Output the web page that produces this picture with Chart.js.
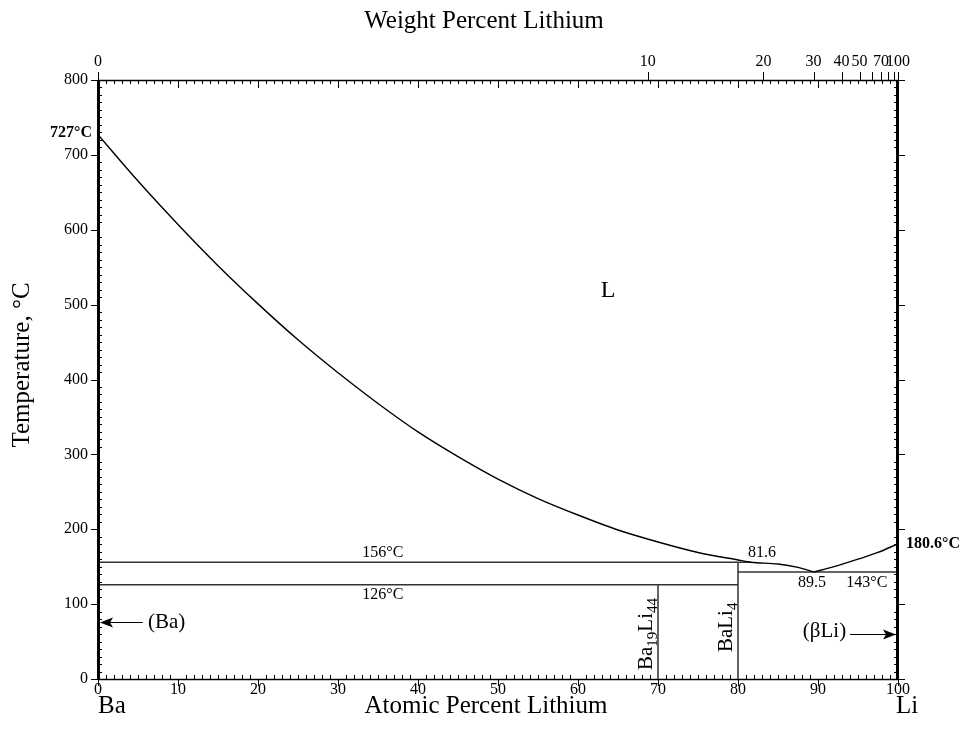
<!DOCTYPE html>
<html>
<head>
<meta charset="utf-8">
<script src="https://cdn.jsdelivr.net/npm/chart.js@4/dist/chart.umd.min.js"></script>
<style>
  html, body { margin: 0; padding: 0; background: #fff; }
</style>
</head>
<body>
<canvas id="myChart" width="962" height="742"></canvas>
<script>
// liquidus, Ba side down to the eutectic
const liqAt = [0, 5, 10, 15, 20, 25, 30, 35, 40, 45, 50, 55, 60, 65, 70, 75, 80, 81.6, 85, 87.5, 89.5];
const liqT = [727, 665, 607, 552, 501, 453, 409, 368, 330, 297, 267, 241, 219, 199, 183, 169, 159, 156, 153.5, 149, 143];
// liquidus, Li side
const liq2At = [89.5, 92, 95, 97.5, 100];
const liq2T = [143, 150, 160, 169, 180.6];

// invariant lines
const isoT = [156, 126, 143];
const isoFrom = [0, 0, 80];
const isoTo = [81.6, 80, 100];

// compounds (vertical lines)
const compAt = [70, 80];
const compTop = [126, 156];

// axes
const atTicks = [0, 10, 20, 30, 40, 50, 60, 70, 80, 90, 100];
const tempTicks = [0, 100, 200, 300, 400, 500, 600, 700, 800];
const wtTicks = [0, 10, 20, 30, 40, 50, 60, 70, 80, 90, 100];
const wtLabels = ['0', '10', '20', '30', '40', '50', '', '70', '', '', '100'];

const BA = 137.33, LI = 6.941;
function wtToAt(w) {
  if (w >= 100) return 100;
  const li = w / LI, ba = (100 - w) / BA;
  return 100 * li / (li + ba);
}

const serif = 'Liberation Serif';

function toXY(xs, ys) {
  return xs.map((v, i) => ({x: v, y: ys[i]}));
}

let datasets = [];
datasets.push({data: toXY(liqAt, liqT), borderColor: '#000', borderWidth: 1.4, cubicInterpolationMode: 'monotone'});
datasets.push({data: toXY(liq2At, liq2T), borderColor: '#000', borderWidth: 1.4, cubicInterpolationMode: 'monotone'});
for (let i = 0; i < isoT.length; i++) {
  datasets.push({data: [{x: isoFrom[i], y: isoT[i]}, {x: isoTo[i], y: isoT[i]}], borderColor: '#333', borderWidth: 1.5});
}
for (let i = 0; i < compAt.length; i++) {
  datasets.push({data: [{x: compAt[i], y: 0}, {x: compAt[i], y: compTop[i]}], borderColor: '#111', borderWidth: 1.3});
}

function chem(ctx, parts, x, y) {
  // parts: [text, isSub]
  let cx = x;
  parts.forEach(p => {
    ctx.font = (p[1] ? 15 : 21) + 'px ' + serif;
    ctx.fillText(p[0], cx, p[1] ? y + 5 : y);
    cx += ctx.measureText(p[0]).width;
  });
}

function arrow(ctx, x1, y, x2) {
  const dir = x2 > x1 ? 1 : -1;
  ctx.beginPath();
  ctx.moveTo(x1, y);
  ctx.lineTo(x2 - dir * 10, y);
  ctx.stroke();
  ctx.beginPath();
  ctx.moveTo(x2, y);
  ctx.lineTo(x2 - dir * 13, y - 5);
  ctx.lineTo(x2 - dir * 10, y);
  ctx.lineTo(x2 - dir * 13, y + 5);
  ctx.closePath();
  ctx.fill();
}

const marks = {
  id: 'marks',
  afterDraw(chart) {
    const ctx = chart.ctx, xs = chart.scales.x, ys = chart.scales.y, a = chart.chartArea;
    const X = v => xs.getPixelForValue(v), Y = v => ys.getPixelForValue(v);
    ctx.save();
    ctx.strokeStyle = '#000';
    ctx.fillStyle = '#000';

    // frame
    ctx.lineWidth = 1.3;
    ctx.beginPath();
    ctx.moveTo(a.left, a.top + 0.5); ctx.lineTo(a.right, a.top + 0.5);
    ctx.moveTo(a.left, a.bottom + 0.5); ctx.lineTo(a.right, a.bottom + 0.5);
    ctx.stroke();
    ctx.lineWidth = 3;
    ctx.beginPath();
    ctx.moveTo(a.left + 0.5, a.top); ctx.lineTo(a.left + 0.5, a.bottom + 1);
    ctx.moveTo(a.right - 0.5, a.top); ctx.lineTo(a.right - 0.5, a.bottom + 1);
    ctx.stroke();

    // at% ticks, bottom and top
    ctx.lineWidth = 1;
    ctx.beginPath();
    for (let v = 0; v <= 100; v++) {
      const px = Math.round(X(v)) + 0.5;
      if (v % 10 === 0) {
        ctx.moveTo(px, a.bottom); ctx.lineTo(px, a.bottom + 7);
        ctx.moveTo(px, a.top); ctx.lineTo(px, a.top + 8);
      } else {
        ctx.moveTo(px, a.bottom); ctx.lineTo(px, a.bottom - 4);
        ctx.moveTo(px, a.top); ctx.lineTo(px, a.top + 4);
      }
    }
    // wt% ticks on top
    wtTicks.forEach(w => {
      const px = Math.round(X(wtToAt(w))) + 0.5;
      ctx.moveTo(px, a.top); ctx.lineTo(px, a.top - 8);
    });
    // temperature ticks, left and right
    for (let t = 0; t <= 800; t += 10) {
      const py = Math.round(Y(t)) + 0.5;
      if (t % 100 === 0) {
        ctx.moveTo(a.left, py); ctx.lineTo(a.left - 7, py);
        ctx.moveTo(a.right, py); ctx.lineTo(a.right + 7, py);
      } else {
        ctx.moveTo(a.left, py); ctx.lineTo(a.left + 4, py);
        ctx.moveTo(a.right, py); ctx.lineTo(a.right - 4, py);
      }
    }
    ctx.stroke();

    // titles
    ctx.font = '25px ' + serif;
    ctx.textBaseline = 'middle';
    ctx.textAlign = 'center';
    ctx.fillText('Weight Percent Lithium', 484, 21);
    ctx.fillText('Atomic Percent Lithium', 486, 706);
    ctx.textAlign = 'left';
    ctx.fillText('Ba', 98, 706);
    ctx.fillText('Li', 896, 706);
    ctx.save();
    ctx.translate(22, 365);
    ctx.rotate(-Math.PI / 2);
    ctx.textAlign = 'center';
    ctx.fillText('Temperature, \u00B0C', 0, 0);
    ctx.restore();

    // region and point labels
    ctx.textAlign = 'center';
    ctx.font = '24px ' + serif;
    ctx.fillText('L', X(63.75), Y(519));
    ctx.font = '16px ' + serif;
    ctx.fillText('156\u00B0C', X(35.6), Y(169));
    ctx.fillText('126\u00B0C', X(35.6), Y(112));
    ctx.fillText('81.6', X(83), Y(168));
    ctx.fillText('89.5', X(89.25), Y(128));
    ctx.fillText('143\u00B0C', X(96.1), Y(128));
    ctx.font = 'bold 16px ' + serif;
    ctx.textAlign = 'right';
    ctx.fillText('727\u00B0C', a.left - 6, Y(730));
    ctx.textAlign = 'left';
    ctx.fillText('180.6\u00B0C', a.right + 8, Y(181));

    ctx.font = '21px ' + serif;
    ctx.fillText('(Ba)', X(6.25), Y(76));
    ctx.fillText('(\u03B2Li)', X(88.1), Y(63));
    ctx.lineWidth = 1.2;
    arrow(ctx, X(5.6), Math.round(Y(76)) + 0.5, a.left + 2);
    arrow(ctx, X(94), Math.round(Y(60)) + 0.5, a.right - 2);

    // compound labels, rotated
    ctx.textBaseline = 'alphabetic';
    ctx.textAlign = 'left';
    ctx.save();
    ctx.translate(X(69.2), Y(12));
    ctx.rotate(-Math.PI / 2);
    chem(ctx, [['Ba', false], ['19', true], ['Li', false], ['44', true]], 0, 0);
    ctx.restore();
    ctx.save();
    ctx.translate(X(79.2), Y(36));
    ctx.rotate(-Math.PI / 2);
    chem(ctx, [['Ba', false], ['Li', false], ['4', true]], 0, 0);
    ctx.restore();

    ctx.restore();
  }
};

const tickFont = {family: serif, size: 16};

new Chart(document.getElementById('myChart').getContext('2d'), {
  type: 'scatter',
  data: {datasets: datasets.map(d => Object.assign({showLine: true, pointRadius: 0, fill: false}, d))},
  options: {
    responsive: false,
    animation: false,
    layout: {padding: {left: 0, right: 64, top: 0, bottom: 0}},
    plugins: {legend: {display: false}, tooltip: {enabled: false}},
    scales: {
      x: {
        type: 'linear', position: 'bottom', min: 0, max: 100,
        grid: {display: false}, border: {display: false},
        afterBuildTicks: s => { s.ticks = atTicks.map(v => ({value: v})); },
        ticks: {autoSkip: false, maxRotation: 0, padding: -7, color: '#000', font: tickFont},
        afterFit: s => { s.height = 63; }
      },
      xTop: {
        type: 'linear', position: 'top', min: 0, max: 100,
        grid: {display: false}, border: {display: false},
        afterBuildTicks: s => { s.ticks = wtTicks.map(w => ({value: wtToAt(w)})); },
        ticks: {autoSkip: false, maxRotation: 0, minRotation: 0, padding: 1, color: '#000', font: tickFont,
          callback: (v, i) => wtLabels[i]},
        afterFit: s => { s.height = 80; }
      },
      y: {
        type: 'linear', min: 0, max: 800,
        grid: {display: false}, border: {display: false},
        afterBuildTicks: s => { s.ticks = tempTicks.map(v => ({value: v})); },
        ticks: {autoSkip: false, padding: 2, color: '#000', font: tickFont},
        afterFit: s => { s.height; s.width = 98; }
      }
    }
  },
  plugins: [marks]
});
</script>
</body>
</html>
